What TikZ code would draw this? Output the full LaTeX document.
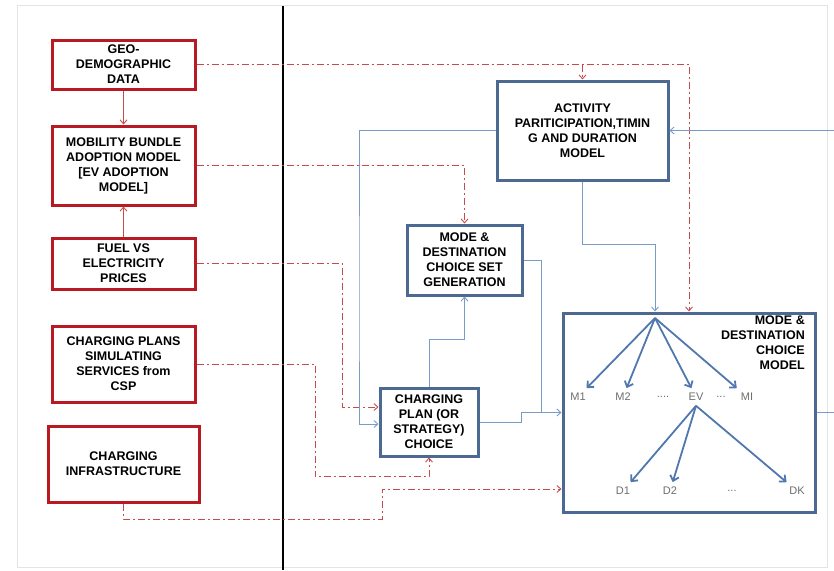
\documentclass[tikz,border=0pt]{standalone}
\usepackage{fontspec}
\setmainfont{Liberation Sans}
\usetikzlibrary{arrows.meta}
\definecolor{boxred}{RGB}{185,25,35}
\definecolor{linkred}{RGB}{200,75,75}
\definecolor{boxblue}{RGB}{75,105,145}
\definecolor{linkblue}{RGB}{120,155,200}
\definecolor{treeblue}{RGB}{80,120,175}
\definecolor{framegray}{RGB}{228,228,228}
\definecolor{labelgray}{RGB}{110,110,110}

\begin{document}
\begin{tikzpicture}[x=1pt,y=-1pt,
  boxtext/.style={font=\fontsize{12.5}{15}\selectfont\bfseries, align=center, text=black},
  redbox/.style={boxtext, draw=boxred, line width=3pt, fill=white, inner sep=0pt},
  bluebox/.style={boxtext, draw=boxblue, line width=3pt, fill=white, inner sep=0pt},
  tip/.style={-{Straight Barb[length=4pt,width=7pt]}},
  redlink/.style={draw=linkred, line width=0.9pt, tip},
  reddash/.style={redlink, dash pattern=on 7pt off 3pt on 2pt off 3pt},
  bluelink/.style={draw=linkblue, line width=0.9pt, tip},
  bluepath/.style={draw=linkblue, line width=0.9pt},
  treearrow/.style={draw=treeblue, line width=1.8pt, -{Straight Barb[length=5pt,width=9pt]}},
  leaf/.style={font=\fontsize{11}{13}\selectfont, text=labelgray, inner sep=1pt, outer sep=4pt}]

\useasboundingbox (0,0) rectangle (834,570);
\fill[white] (0,0) rectangle (834,570);

% page frame and the separating rule
\draw[framegray, line width=1pt] (17,5) rectangle (827,567);
\draw[black, line width=2.5pt] (283,6) -- (283,570);

% input boxes (left column)
\node[redbox, minimum width=143pt, minimum height=49pt] (geo) at (123.5,64.5) {GEO-\\DEMOGRAPHIC\\DATA};
\node[redbox, minimum width=143pt, minimum height=79pt] (mob) at (123.5,165.5) {MOBILITY BUNDLE\\ADOPTION MODEL\\{[}EV ADOPTION\\MODEL{]}};
\node[redbox, minimum width=143pt, minimum height=51pt] (fuel) at (123.5,263.5) {FUEL VS\\ELECTRICITY\\PRICES};
\node[redbox, minimum width=143pt, minimum height=76pt] (cps) at (123.5,364) {CHARGING PLANS\\SIMULATING\\SERVICES from\\CSP};
\node[redbox, minimum width=151pt, minimum height=76pt] (inf) at (123.5,464) {CHARGING\\INFRASTRUCTURE};

% model boxes (right part)
\node[bluebox, minimum width=171pt, minimum height=99pt] (act) at (582.5,130.5) {ACTIVITY\\PARITICIPATION,TIMIN\\G AND DURATION\\MODEL};
\node[bluebox, minimum width=115pt, minimum height=70pt] (mset) at (464.5,260) {MODE \&\\DESTINATION\\CHOICE SET\\GENERATION};
\node[bluebox, minimum width=98pt, minimum height=68pt] (cpl) at (429,422) {CHARGING\\PLAN (OR\\STRATEGY)\\CHOICE};
\node[bluebox, minimum width=252pt, minimum height=199pt] (big) at (689,412.5) {};
\node[boxtext, align=right, anchor=north east, inner sep=0pt] (bigtitle) at (805,316) {MODE \&\\DESTINATION\\CHOICE\\MODEL};

% free ends of the feedback lines
\coordinate (inright) at (834,130.5);
\coordinate (outright) at (834,412.5);

% links between the input boxes
\draw[redlink] (geo.south) -- (mob.north);
\draw[redlink] (fuel.north) -- (mob.south);

% dash-dot influences
\draw[reddash] (geo.east) -| (big.north);
\draw[reddash] (geo.east -| act.north) -- (act.north);
\draw[reddash] (mob.east) -| (mset.north);
\draw[reddash] (fuel.east) -| ([xshift=-36pt,yshift=15pt]cpl.west) -- ([yshift=15pt]cpl.west);
\draw[reddash] (cps.east) -| ([xshift=-114pt,yshift=-19pt]cpl.south) -| (cpl.south);
\draw[reddash] (inf.south) |- (382,519) |- ([yshift=-76.5pt]big.west);

% model flow
\draw[bluelink] (inright) -- (act.east);
\draw[bluelink] (act.west) -| (359,300) |- ([yshift=-2pt]cpl.west);
\draw[bluelink] (act.south) -- ++(0,63) -| ([xshift=-34pt]big.north);
\draw[bluelink] (cpl.north) -- ++(0,-47) -| (mset.south);
\draw[bluepath] (mset.east) -| ([xshift=-20pt]big.west);
\draw[bluelink] (cpl.east) -- ++(42,0) |- (big.west);
\draw[bluepath] (big.east) -- (outright);

% nested choice tree
\coordinate (troot) at (655,318);
\node[leaf] (m1) at (578,397) {M1};
\node[leaf] (m2) at (623,397) {M2};
\node[leaf] (mdots) at (663,397) {....};
\node[leaf] (ev) at (696,397) {EV};
\node[leaf] (edots) at (721,397) {...};
\node[leaf] (mi) at (747,397) {MI};
\node[leaf] (d1) at (623,491) {D1};
\node[leaf] (d2) at (670,491) {D2};
\node[leaf] (ddots) at (732,491) {...};
\node[leaf] (dk) at (797,491) {DK};

\draw[treearrow] (troot) -- (m1);
\draw[treearrow] (troot) -- (m2);
\draw[treearrow] (troot) -- (ev);
\draw[treearrow] (troot) -- (mi);
\draw[treearrow] (ev.south) -- (d1);
\draw[treearrow] (ev.south) -- (d2);
\draw[treearrow] (ev.south) -- (dk);
\end{tikzpicture}
\end{document}
